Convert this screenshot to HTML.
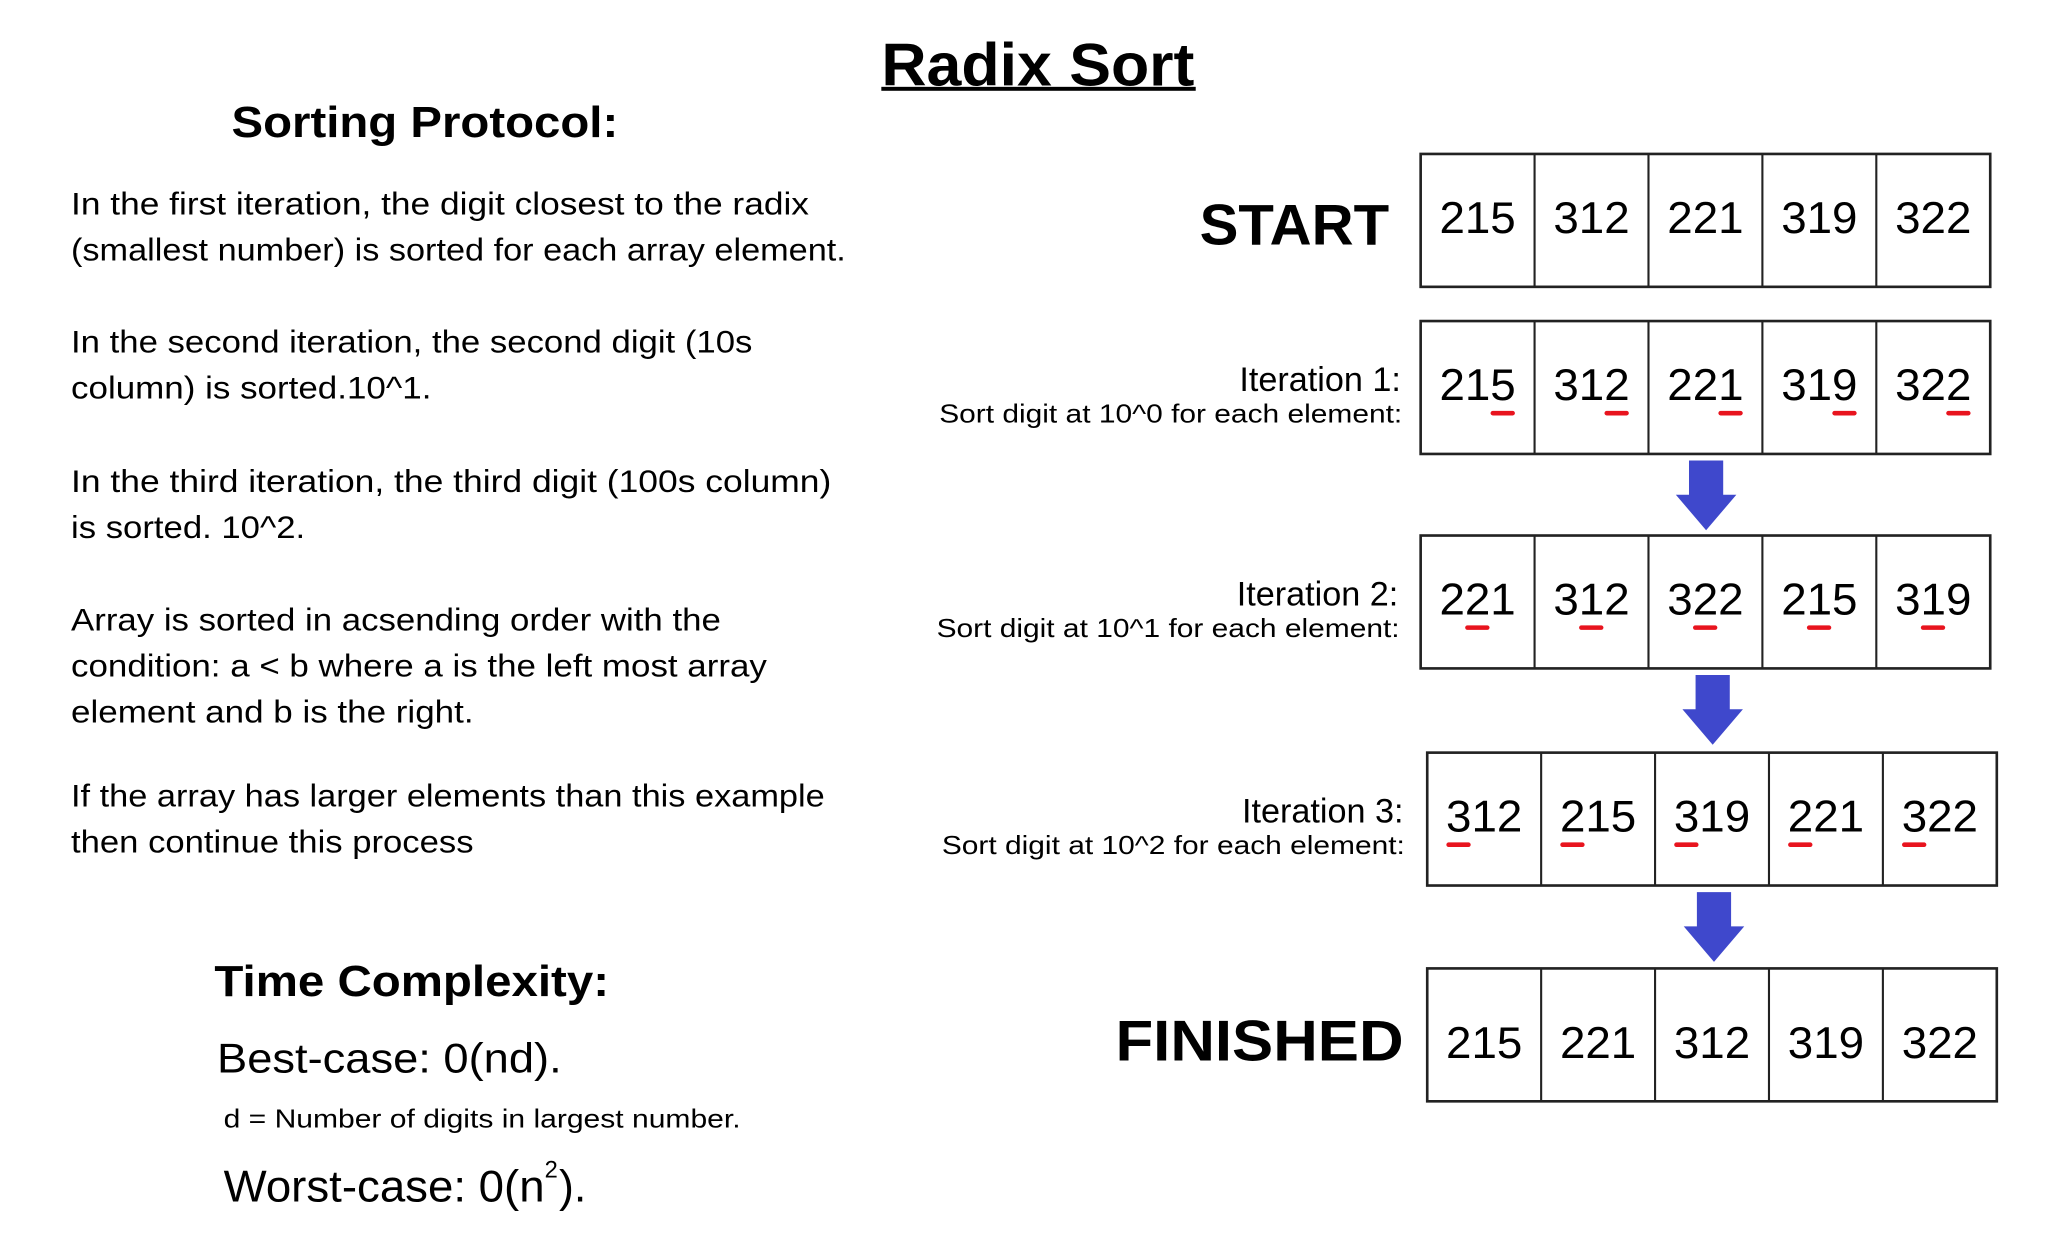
<!DOCTYPE html>
<html><head><meta charset="utf-8"><style>
html,body{margin:0;padding:0;background:#fff}
svg{display:block}
text{font-family:"Liberation Sans",sans-serif;fill:#000}
</style></head><body>
<svg id="chart" width="2056" height="1250" viewBox="0 0 1563 950" preserveAspectRatio="none" xmlns="http://www.w3.org/2000/svg">
<rect width="1563" height="950" fill="#fff"/>
<text x="670" y="65" font-size="46" font-weight="bold" textLength="238" lengthAdjust="spacingAndGlyphs">Radix Sort</text>
<rect x="670" y="66" width="239" height="3" fill="#000"/>
<text x="176" y="104" font-size="33" font-weight="bold" textLength="294" lengthAdjust="spacingAndGlyphs">Sorting Protocol:</text>
<g id="para" font-size="24"></g>
<text x="163" y="757" font-size="33" font-weight="bold" textLength="300" lengthAdjust="spacingAndGlyphs">Time Complexity:</text>
<text x="165" y="815" font-size="32" textLength="262" lengthAdjust="spacingAndGlyphs">Best-case: 0(nd).</text>
<text x="170" y="857" font-size="20" textLength="393" lengthAdjust="spacingAndGlyphs">d = Number of digits in largest number.</text>
<text x="170" y="913" font-size="34" textLength="244" lengthAdjust="spacingAndGlyphs">Worst-case: 0(n</text>
<text x="414" y="895" font-size="18">2</text>
<text x="425" y="913" font-size="34">).</text>
<text x="1056" y="186" font-size="44" font-weight="bold" text-anchor="end" textLength="144" lengthAdjust="spacingAndGlyphs">START</text>
<text x="1067" y="806" font-size="44" font-weight="bold" text-anchor="end" textLength="219" lengthAdjust="spacingAndGlyphs">FINISHED</text>
<g id="rows"></g>
</svg>
<script>
const paraLines = [
 ["In the first iteration, the digit closest to the radix",155,561],
 ["(smallest number) is sorted for each array element.",190,589],
 ["In the second iteration, the second digit (10s",260,518],
 ["column) is sorted.10^1.",295,274],
 ["In the third iteration, the third digit (100s column)",366,578],
 ["is sorted. 10^2.",401,178],
 ["Array is sorted in acsending order with the",471,494],
 ["condition: a < b where a is the left most array",506,529],
 ["element and b is the right.",541,306],
 ["If the array has larger elements than this example",605,573],
 ["then continue this process",640,306]
];
const rowValues = [
 [215,312,221,319,322],
 [215,312,221,319,322],
 [221,312,322,215,319],
 [312,215,319,221,322],
 [215,221,312,319,322]
];
const underlineDigit = [-1,2,1,0,-1];
const rowTitles = ["","Iteration 1:","Iteration 2:","Iteration 3:",""];
const rowSubtitles = ["","Sort digit at 10^0 for each element:","Sort digit at 10^1 for each element:","Sort digit at 10^2 for each element:",""];
const NS="http://www.w3.org/2000/svg";
const para=document.getElementById('para');
paraLines.forEach(l=>{
  const t=document.createElementNS(NS,'text');
  
  
  t.setAttribute('x',54);t.setAttribute('y',l[1]+8);
  t.setAttribute('textLength',l[2]);t.setAttribute('lengthAdjust','spacingAndGlyphs');
  t.textContent=l[0];para.appendChild(t);
});
const rowX=[1080,1080,1080,1085,1085];
const rowY=[117,244,407,572,736];
const labelRight=[0,1065,1063,1067,0];
const arrowX=[1297,1302,1303];
const W=433,H=101,cw=W/5;
const g=document.getElementById('rows');
function el(tag,attrs,name){const e=document.createElementNS(NS,tag);for(const k in attrs)e.setAttribute(k,attrs[k]);
 
 
 g.appendChild(e);return e;}
rowValues.forEach((vals,r)=>{
  const x0=rowX[r],y0=rowY[r];
  el('rect',{x:x0,y:y0,width:W,height:H,fill:'none',stroke:'#222','stroke-width':2},'array-box');
  for(let i=1;i<5;i++) el('line',{x1:x0+cw*i,y1:y0,x2:x0+cw*i,y2:y0+H,stroke:'#222','stroke-width':1.6},'cell-divider');
  vals.forEach((v,i)=>{
    const cx=x0+cw*i+cw/2, by=y0+(r===4?68:60);
    const t=el('text',{x:cx,y:by,'font-size':34,'text-anchor':'middle',textLength:58,lengthAdjust:'spacingAndGlyphs'},'array-value');
    t.textContent=String(v);
    const d=underlineDigit[r];
    if(d>=0){
      const dx=cx-29+d*19.3;
      el('line',{x1:dx+2,y1:by+10,x2:dx+17,y2:by+10,stroke:'#e8141e','stroke-width':3.5,'stroke-linecap':'round'},'digit-underline');
    }
  });
  if(rowTitles[r]){
    const t1=el('text',{x:labelRight[r],y:y0+53,'font-size':26,'text-anchor':'end'},'iteration-title');t1.textContent=rowTitles[r];
    const t2=el('text',{x:labelRight[r]+1,y:y0+77,'font-size':20,'text-anchor':'end',textLength:352,lengthAdjust:'spacingAndGlyphs'},'iteration-subtitle');t2.textContent=rowSubtitles[r];
  }
  if(r>=1&&r<=3){
    const ax=arrowX[r-1], ay=y0+H+5;
    el('path',{d:`M${ax-13} ${ay} H${ax+13} V${ay+26} H${ax+23} L${ax} ${ay+53} L${ax-23} ${ay+26} H${ax-13} Z`,fill:'#3f48cc'},'down-arrow');
  }
});
</script>
</body></html>
